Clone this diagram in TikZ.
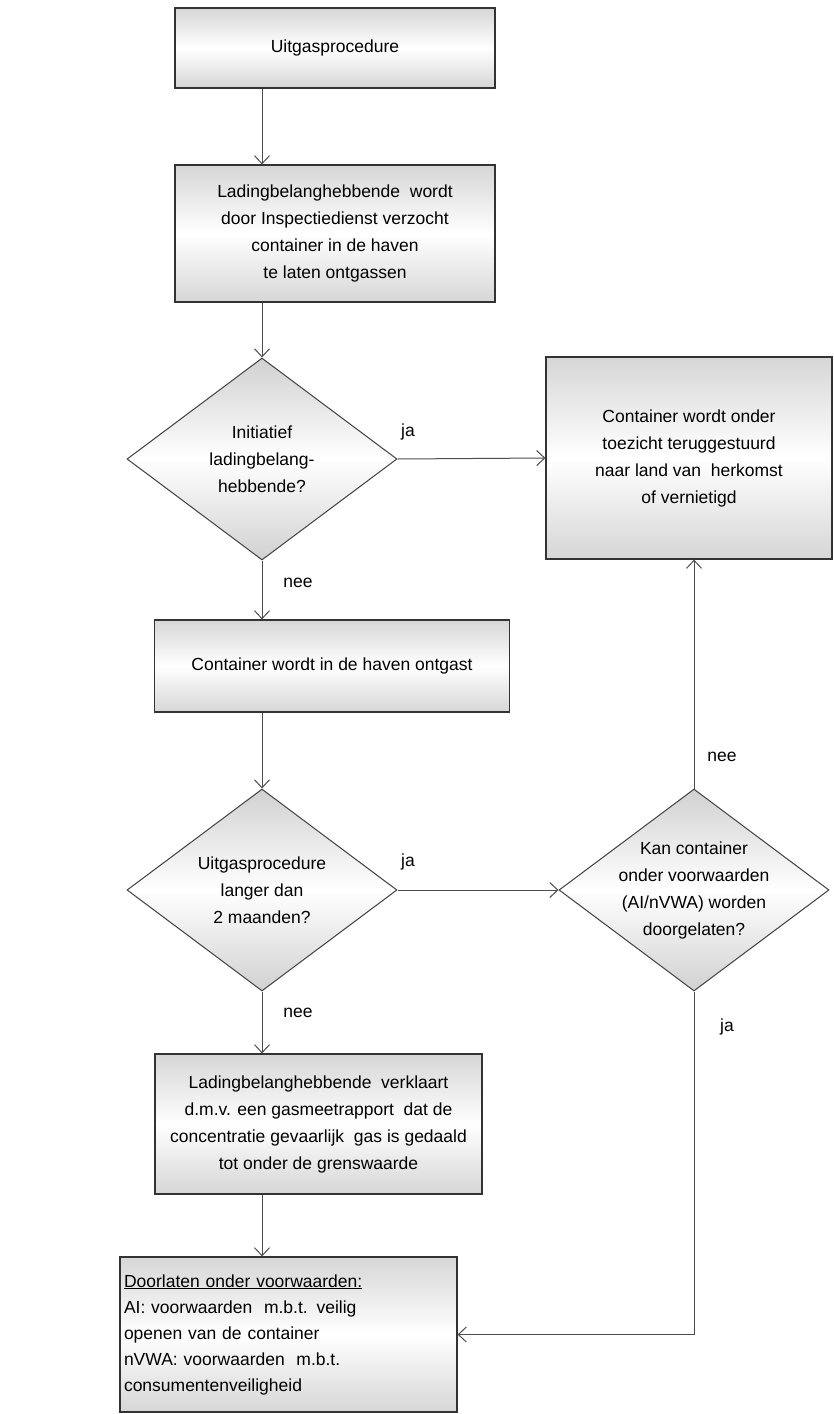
\documentclass[tikz,border=0pt]{standalone}
\usepackage{fontspec}
\setmainfont{Liberation Sans}
\usetikzlibrary{shapes.geometric, arrows.meta}

\tikzset{
	block/.style={draw=black!80, line width=1.2pt, rectangle, inner sep=0pt,
		top color=black!16, bottom color=black!16, middle color=white,
		align=center},
	decision/.style={draw=black!75, line width=1pt, diamond, inner sep=0pt,
		top color=black!18, bottom color=black!18, middle color=white},
	link/.style={draw=black!70, line width=1pt,
		-{Straight Barb[length=8pt, width=15pt]}},
	answer/.style={inner sep=0pt},
}

\begin{document}
\begin{tikzpicture}[x=1pt, y=-1pt,
	every node/.style={font=\fontsize{17.5}{27}\selectfont}]
	\def \dw {270pt}
	\def \dh {202pt}

	\useasboundingbox (0,0) rectangle (834,1414);

	\node[block, minimum width=320pt, minimum height=80pt] (start) at (335,48)
		{Uitgasprocedure};
	\node[block, minimum width=320pt, minimum height=137pt] (request) at (335,233.5)
		{Ladingbelanghebbende\ \ wordt\\door Inspectiedienst verzocht\\container in de haven\\te laten ontgassen};
	\node[decision, minimum width=\dw, minimum height=\dh] (initiative) at (262,459)
		[label={[align=center]center:{Initiatief\\ladingbelang-\\hebbende?}}] {};
	\node[block, minimum width=286pt, minimum height=202pt] (returned) at (689,458)
		{Container wordt onder\\toezicht teruggestuurd\\naar land van\ \ herkomst\\of vernietigd};
	\node[block, minimum width=355pt, minimum height=92pt] (degassed) at (332,666)
		{Container wordt in de haven ontgast};
	\node[decision, minimum width=\dw, minimum height=\dh] (duration) at (262,890)
		[label={[align=center]center:{Uitgasprocedure\\langer dan\\2 maanden?}}] {};
	\node[decision, minimum width=\dw, minimum height=\dh] (conditional) at (694,890)
		[label={[align=center]center:{Kan container\\onder voorwaarden\\(AI/nVWA) worden\\doorgelaten?}}] {};
	\node[block, minimum width=327pt, minimum height=140pt] (declares) at (318.5,1124)
		{Ladingbelanghebbende\ \ verklaart\\d.m.v. een gasmeetrapport\ \ dat de\\concentratie gevaarlijk\ \ gas is gedaald\\tot onder de grenswaarde};
	\node[block, minimum width=337pt, minimum height=155pt, align=left, text width=329pt,
		font=\fontsize{17.5}{26}\selectfont] (release) at (288.5,1334.5)
		{\underline{Doorlaten onder voorwaarden:}\\AI: voorwaarden\ \ m.b.t. veilig\\openen van de container\\nVWA: voorwaarden\ \ m.b.t.\\consumentenveiligheid};

	% answers
	\node[answer] (yes1) at (408,432) {ja};
	\node[answer] (no1) at (298,583) {nee};
	\node[answer] (yes2) at (408,862) {ja};
	\node[answer] (no2) at (722,757) {nee};
	\node[answer] (no3) at (298,1013) {nee};
	\node[answer] (yes3) at (727,1027) {ja};

	\draw[link] (start.south -| initiative.north) -- (request.north -| initiative.north);
	\draw[link] (request.south -| initiative.north) -- (initiative.north);
	\draw[link] (initiative.east) -- (returned.west);
	\draw[link] (initiative.south) -- (degassed.north -| initiative.south);
	\draw[link] (degassed.south -| duration.north) -- (duration.north);
	\draw[link] (duration.east) -- (conditional.west);
	\draw[link] (conditional.north) -- (returned.south -| conditional.north);
	\draw[link] (duration.south) -- (declares.north -| duration.south);
	\draw[link] (declares.south -| duration.south) -- (release.north -| duration.south);
	\draw[link] (conditional.south) |- (release.east);
\end{tikzpicture}
\end{document}
